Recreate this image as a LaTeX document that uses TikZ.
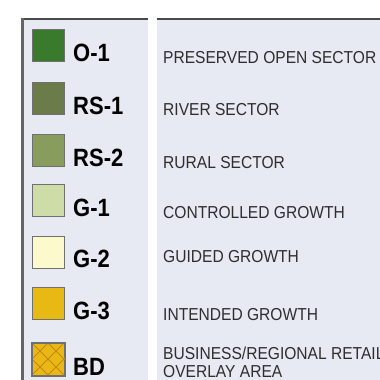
\documentclass[tikz,border=0pt]{standalone}
\usepackage{fontspec}
\usetikzlibrary{calc}
\setmainfont{Liberation Sans}
\newfontfamily\descfont[FakeStretch=0.9]{Liberation Sans}
\newfontfamily\codefont[FakeStretch=0.88]{Liberation Sans Bold}

\definecolor{panelbg}{HTML}{E7E9F3}
\definecolor{rulegray}{HTML}{4A4A4A}
\definecolor{swatchedge}{HTML}{707070}
\definecolor{zoneO}{HTML}{3A7A2C}
\definecolor{zoneRSa}{HTML}{6B7B49}
\definecolor{zoneRSb}{HTML}{889C5D}
\definecolor{zoneGa}{HTML}{CEDCA8}
\definecolor{zoneGb}{HTML}{FCF9CC}
\definecolor{zoneGc}{HTML}{E9B913}
\definecolor{hatchline}{HTML}{C98419}
\definecolor{desctext}{HTML}{2E2E2E}

\tikzset{
  swatch/.style={draw=swatchedge, line width=1.2pt, minimum size=32pt,
    inner sep=0pt, anchor=north west},
  code/.style={anchor=base west, inner sep=0pt,
    font=\codefont\fontsize{25}{25}\selectfont, text=black},
  desc/.style={anchor=base west, inner sep=0pt,
    font=\descfont\fontsize{17.3}{18}\selectfont, text=desctext},
  hatch/.style={hatchline, line width=1pt},
}

\begin{document}
\begin{tikzpicture}[x=1pt, y=-1pt]
  % canvas
  \fill[white] (0,0) rectangle (380,380);
  \useasboundingbox (0,0) rectangle (380,380);

  % the two legend panels
  \fill[panelbg] (21,18) rectangle (148,380);
  \fill[panelbg] (157,18) rectangle (380,380);
  \draw[rulegray, line width=2pt] (21,19) -- (148,19);
  \draw[rulegray, line width=2pt] (157,19) -- (380,19);
  \draw[rulegray!85, line width=3pt] (22.5,18) -- (22.5,380);

  % colour swatches
  \node[swatch, fill=zoneO]   (o1)  at (32,29)  {};
  \node[swatch, fill=zoneRSa] (rs1) at (32,82)  {};
  \node[swatch, fill=zoneRSb] (rs2) at (32,134) {};
  \node[swatch, fill=zoneGa]  (g1)  at (32,184) {};
  \node[swatch, fill=zoneGb]  (g2)  at (32,236) {};
  \node[swatch, fill=zoneGc]  (g3)  at (32,287) {};
  \node[swatch, fill=zoneGc]  (bd)  at (32,343) {};

  % cross-hatching of the overlay swatch
  \begin{scope}
    \clip (bd.north west) rectangle (bd.south east);
    \foreach \c in {-16,0,16} {
      \draw[hatch] ($(bd.north west)+(\c,0)$) -- ++(32,32);
    }
    \foreach \c in {16,32,48} {
      \draw[hatch] ($(bd.north west)+(\c,0)$) -- ++(-32,32);
    }
  \end{scope}
  \draw[swatchedge, line width=1.2pt] (bd.north west) rectangle (bd.south east);

  % zone codes
  \node[code] (o1code)  at (73,61)  {O-1};
  \node[code] (rs1code) at (73,114) {RS-1};
  \node[code] (rs2code) at (73,166) {RS-2};
  \node[code] (g1code)  at (73,216) {G-1};
  \node[code] (g2code)  at (73,267) {G-2};
  \node[code] (g3code)  at (73,319) {G-3};
  \node[code] (bdcode)  at (73,375) {BD};

  % zone descriptions
  \node[desc] (o1desc)  at (163,63)  {PRESERVED OPEN SECTOR};
  \node[desc] (rs1desc) at (163,115.5) {RIVER SECTOR};
  \node[desc] (rs2desc) at (163,168) {RURAL SECTOR};
  \node[desc] (g1desc)  at (163,218) {CONTROLLED GROWTH};
  \node[desc] (g2desc)  at (163,262) {GUIDED GROWTH};
  \node[desc] (g3desc)  at (163,320) {INTENDED GROWTH};
  \node[desc] (bddesc)  at (163,359.5) {BUSINESS/REGIONAL RETAIL};
  \node[desc] (bddescb) at (163,377.5) {OVERLAY AREA};
\end{tikzpicture}
\end{document}
